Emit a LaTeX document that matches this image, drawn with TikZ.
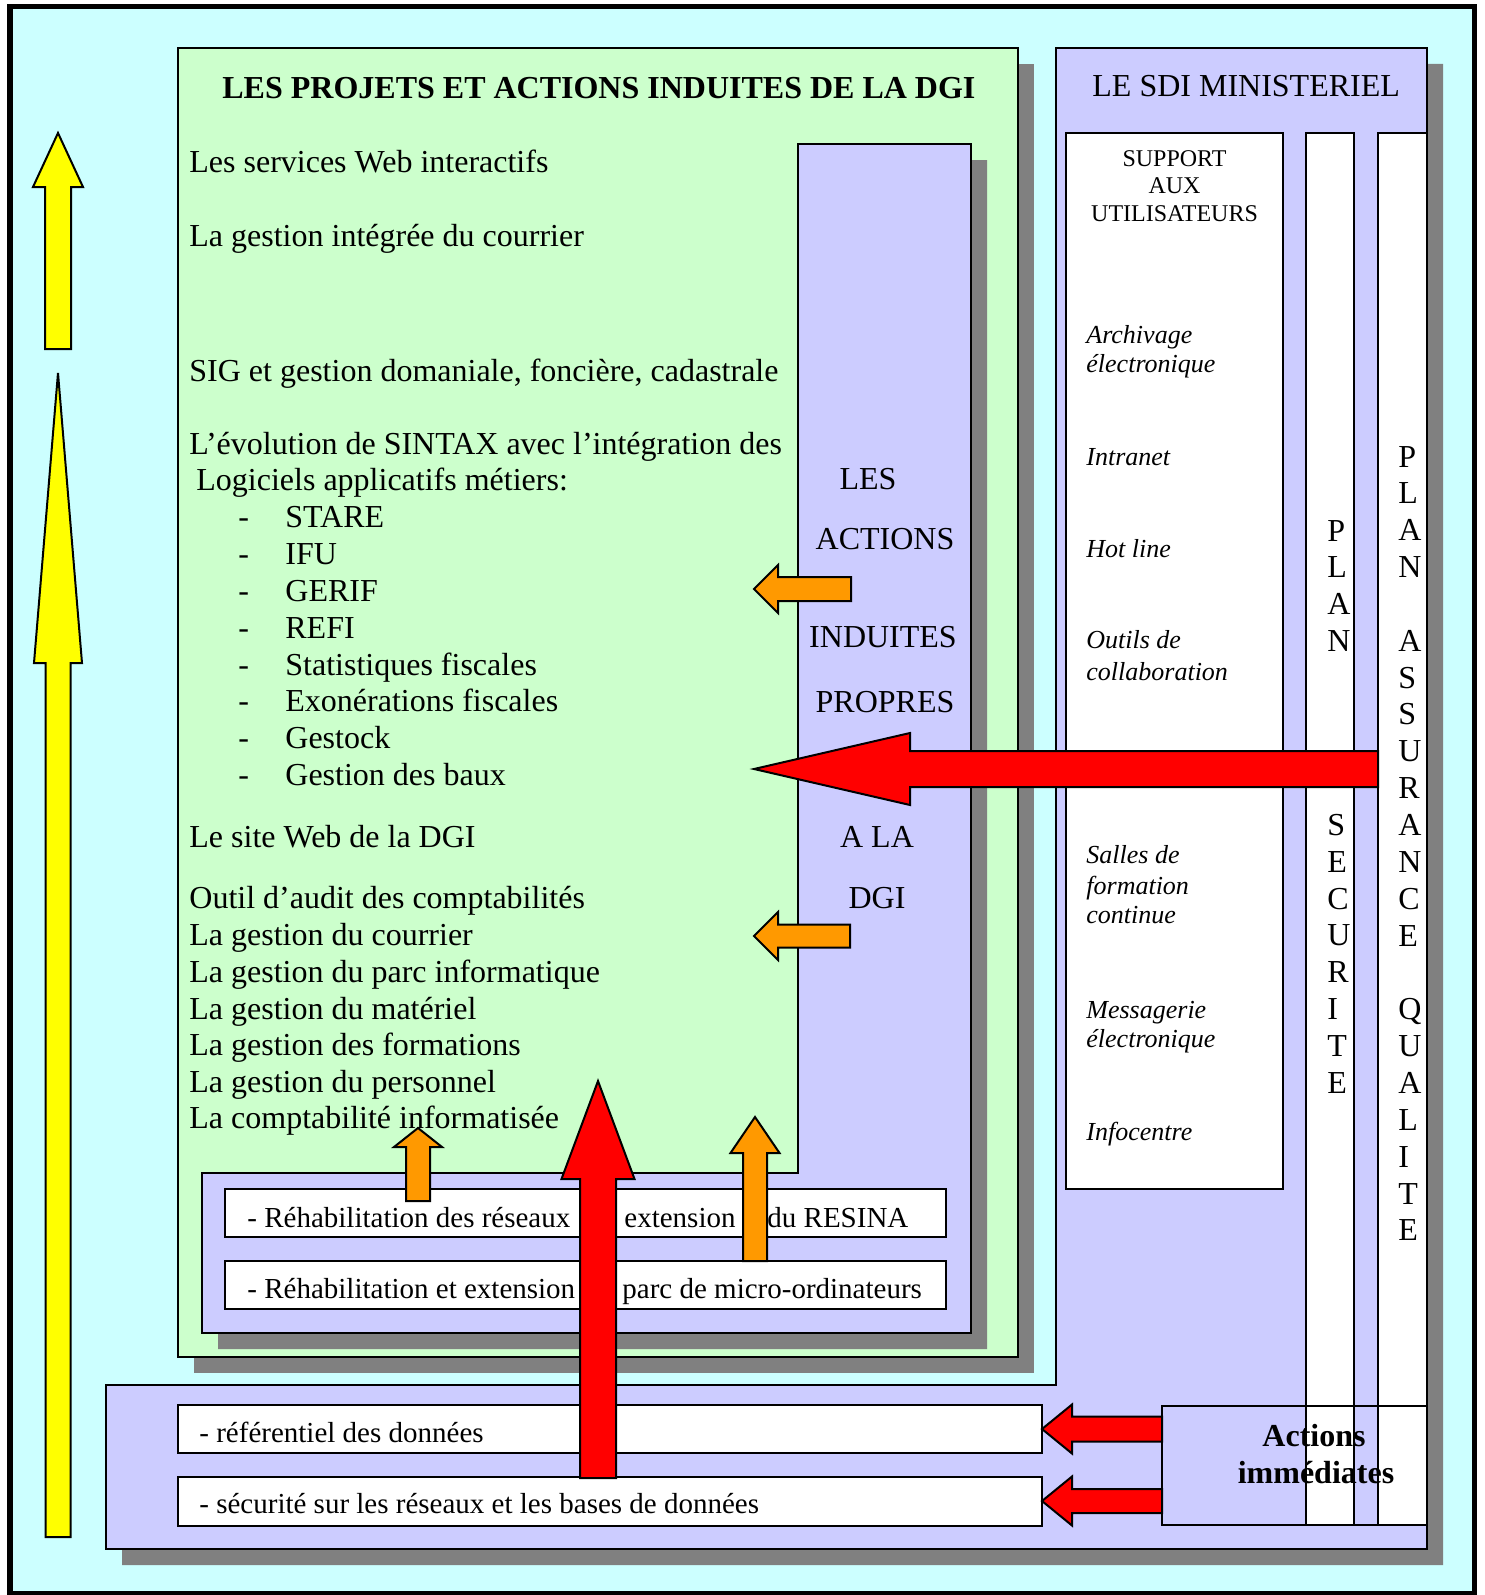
\documentclass[tikz,border=0pt]{standalone}
\usepackage{fontspec}
\setmainfont{Liberation Serif}
\definecolor{cyanbg}{HTML}{CCFFFF}
\definecolor{greenbg}{HTML}{CCFFCC}
\definecolor{lav}{HTML}{CCCCFF}
\definecolor{shadowgray}{HTML}{808080}
\definecolor{orangeA}{HTML}{FF9900}
\definecolor{yellowA}{HTML}{FFFF00}
\definecolor{redA}{HTML}{FF0000}
\tikzset{
  bx/.style={draw=black, line width=1pt, line join=miter},
  shadowfill/.style={fill=shadowgray, draw=none},
  txt/.style={inner sep=0pt, anchor=base west, font=\fontsize{16}{19}\selectfont},
  txtc/.style={inner sep=0pt, anchor=base, font=\fontsize{16}{19}\selectfont},
  smallc/.style={inner sep=0pt, anchor=base, font=\fontsize{12}{14}\selectfont},
  ital/.style={inner sep=0pt, anchor=base west, font=\fontsize{13}{15}\selectfont\itshape},
  rowtxt/.style={inner sep=0pt, anchor=base west, font=\fontsize{14.5}{17}\selectfont},
  boldc/.style={inner sep=0pt, anchor=base, font=\fontsize{16}{19}\selectfont\bfseries},
  letter/.style={inner sep=0pt, anchor=base west, font=\fontsize{16}{19}\selectfont},
  blockarrow/.style={draw=black, line width=1pt, line join=miter},
}
\newcommand{\blkup}[7]{%
  \draw[blockarrow, fill=#1] (#2,#3) -- ({#2+#4},#6) -- ({#2+#5},#6) -- ({#2+#5},#7) -- ({#2-#5},#7) -- ({#2-#5},#6) -- ({#2-#4},#6) -- cycle;}
\newcommand{\blkleft}[7]{%
  \draw[blockarrow, fill=#1] (#2,#3) -- (#6,{#3-#4}) -- (#6,{#3-#5}) -- (#7,{#3-#5}) -- (#7,{#3+#5}) -- (#6,{#3+#5}) -- (#6,{#3+#4}) -- cycle;}
\begin{document}
\begin{tikzpicture}[x=0.5pt,y=-0.5pt]
\useasboundingbox (0,0) rectangle (1484,1595);
\clip (0,0) rectangle (1484,1595);
\fill[white] (0,0) rectangle (1484,1595);
% outer frame
\draw[fill=cyanbg, line width=2.65pt] (10,6.7) rectangle (1474.2,1593.5);

% yellow arrows
\blkup{yellowA}{58}{133}{25}{13}{187}{349}
\blkup{yellowA}{58}{373}{24}{12.5}{663}{1537}

% green box
\fill[shadowfill] (194,64) rectangle (1034,1373);
\draw[bx, fill=greenbg] (178,48) rectangle (1018,1357);

% SDI L-shape
\fill[shadowfill] (1072,64) -- (1443,64) -- (1443,1565) -- (122,1565) -- (122,1401) -- (1072,1401) -- cycle;
\draw[bx, fill=lav] (1056,48) -- (1427,48) -- (1427,1549) -- (106,1549) -- (106,1385) -- (1056,1385) -- cycle;

% lavender column + inner box inside green
\fill[shadowfill] (814,160) -- (987,160) -- (987,1349) -- (218,1349) -- (218,1189) -- (814,1189) -- cycle;
\draw[bx, fill=lav] (798,144) -- (971,144) -- (971,1333) -- (202,1333) -- (202,1173) -- (798,1173) -- cycle;

% inner rows
\draw[bx, fill=white] (225,1189) rectangle (946,1237);
\draw[bx, fill=white] (225,1261) rectangle (946,1309);
\node[rowtxt] (r1a) at (247,1227) {- Réhabilitation des réseaux};
\node[rowtxt] (r1b) at (624,1227) {extension};
\node[rowtxt] (r1c) at (767,1227) {du RESINA};
\node[rowtxt] (r2a) at (247,1298) {- Réhabilitation et extension};
\node[rowtxt] (r2b) at (622,1298) {parc de micro-ordinateurs};

% green box texts
\node[boldc, anchor=base west] (gtitle) at (222,98) {LES PROJETS ET ACTIONS INDUITES DE LA DGI};
\node[txt] (g1) at (189,172) {Les services Web interactifs};
\node[txt] (g2) at (189,246) {La gestion intégrée du courrier};
\node[txt] (g3) at (189,381) {SIG et gestion domaniale, foncière, cadastrale};
\node[txt] (g4) at (189,454) {L’évolution de SINTAX avec l’intégration des};
\node[txt] (g5) at (196,490) {Logiciels applicatifs métiers:};
\foreach \t [count=\i] in {STARE,IFU,GERIF,REFI,Statistiques fiscales,Exonérations fiscales,Gestock,Gestion des baux}{
  \node[txt] (d\i) at (238,{491+\i*36.8}) {-};
  \node[txt] (l\i) at (285,{491+\i*36.8}) {\t};
}
\node[txt] (g6) at (189,847) {Le site Web de la DGI};
\node[txt] (g7) at (189,908) {Outil d’audit des comptabilités};
\node[txt] (g8) at (189,945) {La gestion du courrier};
\node[txt] (g9) at (189,982) {La gestion du parc informatique};
\node[txt] (g10) at (189,1019) {La gestion du matériel};
\node[txt] (g11) at (189,1055) {La gestion des formations};
\node[txt] (g12) at (189,1092) {La gestion du personnel};
\node[txt] (g13) at (189,1128) {La comptabilité informatisée};

% column texts
\node[txtc] (c1) at (868,489) {LES};
\node[txtc] (c2) at (885,549) {ACTIONS};
\node[txtc] (c3) at (883,647) {INDUITES};
\node[txtc] (c4) at (885,712) {PROPRES};
\node[txtc] (c5) at (877,847) {A LA};
\node[txtc] (c6) at (877,908) {DGI};

% SDI
\node[txt] (sdititle) at (1092,97) {LE SDI MINISTERIEL};
\draw[bx, fill=white] (1066,133) rectangle (1283,1189);
\draw[bx, fill=white] (1306,133) rectangle (1354,1525);
\draw[bx, fill=white] (1378,133) rectangle (1427,1525);
\node[smallc] (s1) at (1174.5,166) {SUPPORT};
\node[smallc] (s2) at (1174.5,193) {AUX};
\node[smallc] (s3) at (1174.5,221) {UTILISATEURS};
\node[ital] (i1) at (1086,343) {Archivage};
\node[ital] (i2) at (1086,372) {électronique};
\node[ital] (i3) at (1086,465) {Intranet};
\node[ital] (i4) at (1086,557) {Hot line};
\node[ital] (i5) at (1086,648) {Outils de};
\node[ital] (i6) at (1086,680) {collaboration};
\node[ital] (i7) at (1086,863) {Salles de};
\node[ital] (i8) at (1086,894) {formation};
\node[ital] (i9) at (1086,923) {continue};
\node[ital] (i10) at (1086,1018) {Messagerie};
\node[ital] (i11) at (1086,1047) {électronique};
\node[ital] (i12) at (1086,1140) {Infocentre};
\foreach \ch/\k [count=\i] in {P/0,L/1,A/2,N/3,S/8,E/9,C/10,U/11,R/12,I/13,T/14,E/15}{
  \node[letter] (ps\i) at (1327,{541+\k*36.8}) {\ch};
}
\foreach \ch/\k [count=\i] in {P/0,L/1,A/2,N/3,A/5,S/6,S/7,U/8,R/9,A/10,N/11,C/12,E/13,Q/15,U/16,A/17,L/18,I/19,T/20,E/21}{
  \node[letter] (pq\i) at (1398,{467+\k*36.85}) {\ch};
}

% bottom rows
\draw[bx, fill=white] (178,1405) rectangle (1042,1453);
\draw[bx, fill=white] (178,1477) rectangle (1042,1526);
\node[rowtxt] (b1) at (199,1442) {- référentiel des données};
\node[rowtxt] (b2) at (199,1513) {- sécurité sur les réseaux et les bases de données};

% actions immediates
\draw[bx] (1162,1406) rectangle (1427,1525);
\node[boldc] (act1) at (1314,1446) {Actions};
\node[boldc] (act2) at (1316,1483) {immédiates};

% arrows
\blkleft{orangeA}{754}{589}{24}{12}{778}{851}
\blkleft{orangeA}{754}{936}{24}{11.5}{778}{850}
\blkleft{redA}{754}{769}{36}{18}{910}{1378}
\blkup{orangeA}{418}{1128}{24}{12}{1147}{1201}
\blkup{orangeA}{755}{1117}{24.5}{12}{1153}{1261}
\blkup{redA}{598}{1081}{36.5}{18}{1179}{1478}
\blkleft{redA}{1042}{1429}{24.5}{12.5}{1072}{1162}
\blkleft{redA}{1042}{1501}{24.5}{12}{1072}{1162}
\end{tikzpicture}
\end{document}
